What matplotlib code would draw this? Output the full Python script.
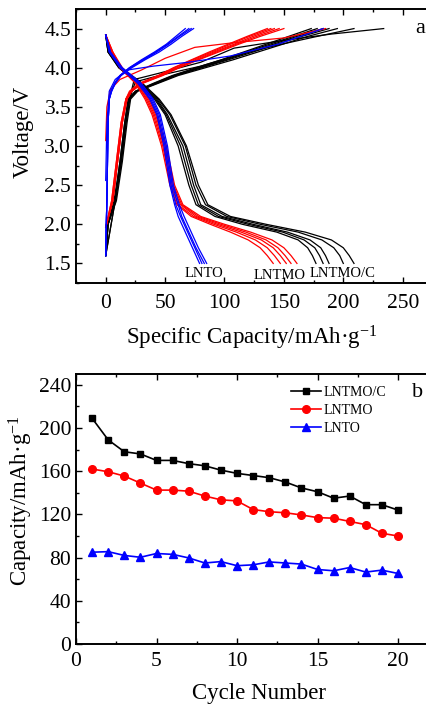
import matplotlib
matplotlib.use("Agg")
import matplotlib.pyplot as plt
from matplotlib.ticker import MultipleLocator

plt.rcParams['font.family'] = ['Liberation Serif', 'DejaVu Serif']
plt.rcParams['mathtext.fontset'] = 'custom'
plt.rcParams['mathtext.rm'] = 'Liberation Serif'
plt.rcParams['mathtext.it'] = 'Liberation Serif:italic'

# ---------------- Panel a data ----------------
# discharge voltage grid (V) and capacities (mAh/g) of each cycle at those voltages
V_DIS = [4.42, 4.2, 4.0, 3.8, 3.6, 3.4, 3.0, 2.5, 2.25, 2.1, 2.0, 1.9, 1.8, 1.7, 1.6, 1.5]
LNTMOC_DIS = [
    [0, 3, 13, 31, 45, 55, 68, 78, 86, 105, 135, 168, 190, 200, 205, 209],
    [0, 3, 12, 30, 44, 54, 67, 76, 84, 102, 130, 162, 182, 192, 197, 200],
    [0, 2, 12, 29, 43, 52, 65, 74, 80, 98, 124, 153, 172, 181, 185, 188],
    [0, 2, 11, 28, 42, 51, 63, 72, 78, 95, 120, 149, 167, 176, 180, 183],
    [0, 2, 11, 27, 41, 50, 61, 70, 76, 92, 115, 144, 162, 170, 174, 177],
]
LNTMO_DIS = [
    [0, 6, 14, 28, 37, 43, 51, 58, 65, 80, 100, 122, 140, 150, 156, 161],
    [0, 6, 13, 27, 36, 42, 50, 57, 64, 78, 97, 118, 135, 145, 151, 156],
    [0, 5, 13, 26, 35, 41, 49, 56, 63, 76, 94, 114, 131, 141, 147, 152],
    [0, 5, 12, 26, 34, 40, 48, 55, 61, 74, 91, 110, 126, 136, 142, 147],
    [0, 5, 12, 25, 33, 39, 47, 54, 60, 72, 88, 105, 120, 130, 136, 141],
]
LNTO_DIS = [
    [0, 4, 14, 30, 40, 46, 52, 57, 62, 66, 69, 72, 75, 78, 81.5, 85],
    [0, 4, 13, 29, 39, 45, 51, 56, 61, 64, 67, 70, 73, 76, 79.5, 83],
    [0, 3, 13, 28, 38, 44, 50, 55, 59, 63, 66, 69, 72, 75, 78, 81],
    [0, 3, 12, 27, 37, 43, 49, 54, 58, 61, 64, 67, 70, 73, 76, 79],
]

# charge voltage grids and capacities
V_CHG = [1.6, 2.0, 2.3, 2.8, 3.3, 3.6, 3.7, 3.8, 3.9, 4.0, 4.1, 4.2, 4.3, 4.4, 4.5]
LNTMOC_CHG = [
    [0, 2, 9, 14, 18, 21, 27, 44, 61, 84, 107, 128, 149, 170, 195],
    [0, 2, 8, 13, 17, 20, 26, 43, 59, 81, 103, 124, 144, 165, 188],
    [0, 2, 8, 13, 17, 20, 26, 42, 58, 80, 101, 121, 141, 161, 183],
    [0, 2, 8, 12, 16, 19, 25, 41, 57, 78, 99, 118, 138, 158, 178],
    [0, 1.5, 7, 12, 16, 19, 25, 40, 56, 76, 97, 116, 135, 154, 173],
]
V_CHG_R = [1.96, 2.3, 2.8, 3.3, 3.6, 3.7, 3.8, 3.9, 4.0, 4.1, 4.2, 4.3, 4.4, 4.5]
LNTMO_CHG = [
    [0, 6, 10, 14, 18, 22, 31, 48, 62, 78, 95, 112, 130, 150],
    [0, 6, 10, 14, 18, 22, 30, 47, 61, 77, 93, 110, 127, 146],
    [0, 6, 10, 14, 17, 21, 30, 46, 60, 75, 91, 108, 124, 142],
    [0, 5, 9, 13, 17, 21, 29, 45, 58, 73, 89, 105, 121, 139],
    [0, 5, 9, 13, 17, 20, 28, 44, 57, 72, 87, 103, 119, 136],
]
LNTO_CHG = [
    [0, 0.5, 1, 1.5, 2, 3, 5, 8, 13, 22, 33, 45, 55, 64, 74],
    [0, 0.5, 1, 1.5, 2, 3, 5, 8, 12.5, 21, 32, 43, 53, 62, 72],
    [0, 0.5, 1, 1.5, 2, 3, 4.5, 7.5, 12, 20, 31, 42, 52, 61, 70],
    [0, 0.5, 1, 1.5, 2, 3, 4.5, 7.5, 12, 20, 30, 41, 51, 59, 67],
]

# first-cycle charge curves (capacity, voltage)
LNTMOC_FIRST_X = [[0, 8, 13, 17, 20, 24, 45, 80, 108, 150, 190, 234],
                  [0, 8, 13, 17, 20, 25, 45, 80, 115, 145, 175, 209]]
LNTMOC_FIRST_V = [[1.6, 2.3, 2.8, 3.3, 3.6, 3.85, 3.93, 4.07, 4.25, 4.35, 4.43, 4.5],
                  [1.6, 2.3, 2.8, 3.3, 3.6, 3.82, 3.9, 4.02, 4.18, 4.29, 4.39, 4.5]]
LNTMO_FIRST_X = [0, 1, 4, 12, 30, 50, 75, 108, 150, 185]
LNTMO_FIRST_V = [3.07, 3.5, 3.72, 3.85, 3.97, 4.12, 4.26, 4.32, 4.38, 4.5]
LNTO_FIRST_X = [0, 1, 3, 8, 18, 40, 70, 105, 145, 183]
LNTO_FIRST_V = [2.56, 3.3, 3.7, 3.85, 3.97, 4.02, 4.07, 4.15, 4.3, 4.5]

# ---------------- Panel b data ----------------
CYCLES = list(range(1, 21))
CAP_LNTMOC = [209, 189, 178, 176, 170, 170, 167, 165, 161, 158,
              156, 154, 150, 144.5, 141, 135, 137, 129, 129, 124]
CAP_LNTMO = [162, 159.5, 155.5, 149, 142.5, 142.5, 141.5, 137, 133.5, 132.5,
             124.5, 122.5, 121.5, 119.5, 117, 116.5, 113.5, 110.5, 102.5, 100]
CAP_LNTO = [85, 85.5, 82, 80.3, 83.8, 83, 79.7, 75, 76.3, 72.5,
            73.3, 76, 75, 74, 69, 67.8, 70.8, 66.6, 68.4, 65.3]

BLACK, RED, BLUE = '#000000', '#ff0000', '#0000ff'

fig = plt.figure(figsize=(4.27, 7.05), dpi=100)
W, H = 427.0, 705.0
TICK_FS = 15.5
LABEL_FS = 16.5

def style_axes(ax, lw=1.4):
    for s in ['left', 'bottom', 'top', 'right']:
        ax.spines[s].set_linewidth(lw)
    ax.tick_params(which='both', direction='in', top=True, right=False,
                   labelsize=TICK_FS, width=1.0)
    ax.tick_params(which='major', length=4.5)
    ax.tick_params(which='minor', length=2.5)

# ---------- panel a ----------
axa = fig.add_axes([76 / W, (H - 283) / H, 356.4 / W, 274 / H])
for cap in LNTMOC_DIS:
    axa.plot(cap, V_DIS, color=BLACK, lw=0.9)
for cap in LNTMOC_CHG:
    axa.plot(cap, V_CHG, color=BLACK, lw=0.9)
for xs, vs in zip(LNTMOC_FIRST_X, LNTMOC_FIRST_V):
    axa.plot(xs, vs, color=BLACK, lw=0.9)
for cap in LNTMO_DIS:
    axa.plot(cap, V_DIS, color=RED, lw=0.9)
for cap in LNTMO_CHG:
    axa.plot(cap, V_CHG_R, color=RED, lw=0.9)
axa.plot(LNTMO_FIRST_X, LNTMO_FIRST_V, color=RED, lw=0.9)
for cap in LNTO_DIS:
    axa.plot(cap, V_DIS, color=BLUE, lw=0.9)
for cap in LNTO_CHG:
    axa.plot(cap, V_CHG, color=BLUE, lw=0.9)
axa.plot(LNTO_FIRST_X, LNTO_FIRST_V, color=BLUE, lw=0.9)

axa.set_xlim(-25, 275)
axa.set_ylim(1.25, 4.75)
axa.xaxis.set_minor_locator(MultipleLocator(25))
axa.yaxis.set_minor_locator(MultipleLocator(0.25))
axa.set_xticks([0, 50, 100, 150, 200, 250])
axa.set_xticklabels(['0', '50', '100', '150', '200', '250'])
axa.set_yticks([1.5, 2.0, 2.5, 3.0, 3.5, 4.0, 4.5])
axa.set_yticklabels(['1.5', '2.0', '2.5', '3.0', '3.5', '4.0', '4.5'])
style_axes(axa)
axa.tick_params(axis='x', pad=8)
axa.set_xlabel('Specific Capacity/mAh·g$^{-1}$', fontsize=LABEL_FS)
axa.xaxis.set_label_coords(0.494, -0.15)
axa.set_ylabel('Voltage/V', fontsize=LABEL_FS)
axa.yaxis.set_label_coords(-0.118, 0.55)
axa.text(82.5, 1.37, 'LNTO', fontsize=10.5, ha='center', va='center')
axa.text(146, 1.35, 'LNTMO', fontsize=10.5, ha='center', va='center')
axa.text(199.5, 1.37, 'LNTMO/C', fontsize=10.5, ha='center', va='center')
axa.text(265, 4.5, 'a', fontsize=16, ha='center', va='center')

# ---------- panel b ----------
axb = fig.add_axes([76 / W, (H - 644) / H, 354.2 / W, 270 / H])
axb.plot(CYCLES, CAP_LNTMOC, color=BLACK, lw=1.2, marker='s', ms=5, label='LNTMO/C')
axb.plot(CYCLES, CAP_LNTMO, color=RED, lw=1.2, marker='o', ms=5.5, label='LNTMO')
axb.plot(CYCLES, CAP_LNTO, color=BLUE, lw=1.2, marker='^', ms=6, label='LNTO')
axb.set_xlim(0, 22)
axb.set_ylim(0, 250)
axb.set_xticks([0, 5, 10, 15, 20])
axb.xaxis.set_minor_locator(MultipleLocator(2.5))
axb.set_yticks([0, 40, 80, 120, 160, 200, 240])
axb.yaxis.set_minor_locator(MultipleLocator(20))
style_axes(axb)
axb.tick_params(axis='x', pad=6)
axb.set_xlabel('Cycle Number', fontsize=LABEL_FS)
axb.xaxis.set_label_coords(0.517, -0.145)
axb.set_ylabel('Capacity/mAh·g$^{-1}$', fontsize=LABEL_FS)
axb.yaxis.set_label_coords(-0.115, 0.53)
leg = axb.legend(loc='upper left', bbox_to_anchor=(0.59, 0.975), frameon=False,
                 fontsize=10, handlelength=2.2, handletextpad=0.2, labelspacing=0.35,
                 borderaxespad=0.0)
axb.text(21.2, 233, 'b', fontsize=16, ha='center', va='center')

fig.savefig('out.png', dpi=100)
